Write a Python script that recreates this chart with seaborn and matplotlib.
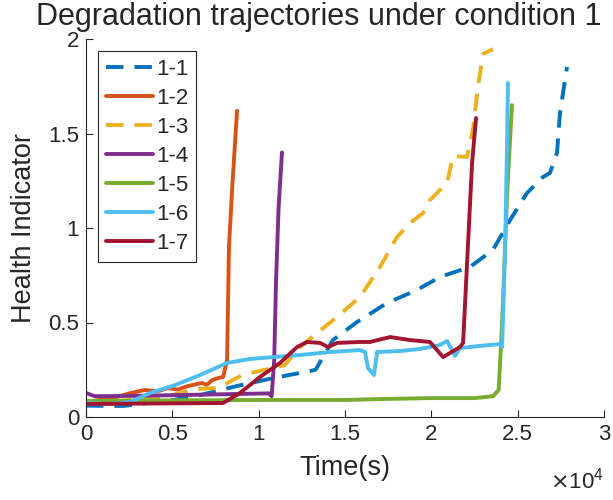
import pandas as pd
import seaborn as sns
import matplotlib.pyplot as plt

# bearing run-to-failure health indicator, condition 1
bearings = ["1-1", "1-2", "1-3", "1-4", "1-5", "1-6", "1-7"]

time_1_1 = [0, 2140, 5040, 6600, 8750, 10830, 12970, 13300, 14300, 15700, 17430,
            19170, 20500, 22240, 23570, 24560, 25540, 26470, 26870, 27280, 27450, 27860]
hi_1_1 = [0.06, 0.058, 0.09, 0.116, 0.164, 0.206, 0.243, 0.25, 0.407, 0.503, 0.603,
          0.672, 0.741, 0.794, 0.884, 1.042, 1.185, 1.27, 1.291, 1.397, 1.608, 1.852]

time_1_2 = [0, 1560, 2500, 3420, 4100, 4750, 5300, 5730, 6200, 6720, 7000, 7300,
            7650, 7940, 8170, 8280, 8460, 8630, 8750]
hi_1_2 = [0.08, 0.10, 0.125, 0.143, 0.135, 0.153, 0.145, 0.159, 0.17, 0.18, 0.17,
          0.195, 0.206, 0.212, 0.30, 0.90, 1.20, 1.45, 1.62]

time_1_3 = [0, 4580, 6310, 7650, 9040, 10770, 11530, 12220, 13380, 14540, 15870,
            17030, 18010, 18770, 19520, 19920, 20910, 21260, 22070, 22420, 22700,
            23000, 23570]
hi_1_3 = [0.07, 0.106, 0.148, 0.153, 0.222, 0.259, 0.275, 0.355, 0.444, 0.529, 0.635,
          0.794, 0.952, 1.026, 1.079, 1.148, 1.238, 1.38, 1.376, 1.529, 1.746, 1.921,
          1.947]

time_1_4 = [0, 500, 3000, 6000, 10600, 10750, 10900, 11000, 11150, 11350]
hi_1_4 = [0.127, 0.11, 0.112, 0.117, 0.125, 0.11, 0.30, 0.70, 1.10, 1.40]

time_1_5 = [0, 5000, 10000, 15000, 17000, 20000, 22500, 23570, 23900, 24100, 24400,
            24670]
hi_1_5 = [0.085, 0.088, 0.09, 0.09, 0.095, 0.10, 0.10, 0.11, 0.143, 0.50, 1.20, 1.65]

time_1_6 = [0, 1390, 2550, 3710, 5160, 6600, 8170, 9500, 10830, 12400, 14130, 15870,
            16160, 16330, 16680, 16860, 18190, 19350, 20500, 20910, 21200, 21370,
            21660, 22820, 23980, 24100, 24270, 24380, 24440]
hi_1_6 = [0.074, 0.069, 0.079, 0.127, 0.169, 0.222, 0.286, 0.307, 0.317, 0.328, 0.344,
          0.354, 0.344, 0.259, 0.222, 0.344, 0.349, 0.36, 0.381, 0.402, 0.354, 0.323,
          0.365, 0.376, 0.386, 0.37, 0.884, 1.413, 1.767]

time_1_7 = [0, 7940, 8920, 10080, 11240, 12220, 12800, 13550, 14020, 14540, 15870,
            16450, 17610, 18770, 19920, 20680, 21660, 21840, 22070, 22360, 22590]
hi_1_7 = [0.069, 0.074, 0.127, 0.212, 0.286, 0.37, 0.397, 0.392, 0.37, 0.392, 0.397,
          0.397, 0.423, 0.407, 0.397, 0.317, 0.37, 0.392, 0.815, 1.344, 1.582]

colors = ["#0072BD", "#D95319", "#EDB120", "#7E2F8E", "#77AC30", "#4DBEEE", "#A2142F"]
x_ticks = [0, 5000, 10000, 15000, 20000, 25000, 30000]
x_tick_labels = ["0", "0.5", "1", "1.5", "2", "2.5", "3"]
y_ticks = [0, 0.5, 1, 1.5, 2]
y_tick_labels = ["0", "0.5", "1", "1.5", "2"]

series = [(time_1_1, hi_1_1), (time_1_2, hi_1_2), (time_1_3, hi_1_3), (time_1_4, hi_1_4),
          (time_1_5, hi_1_5), (time_1_6, hi_1_6), (time_1_7, hi_1_7)]
df = pd.concat(
    [pd.DataFrame({"time": t, "hi": h, "bearing": b}) for b, (t, h) in zip(bearings, series)],
    ignore_index=True,
)

sns.set_theme(style="ticks")
plt.rcParams["font.family"] = ["Liberation Sans", "DejaVu Sans"]

fig = plt.figure(figsize=(6.13, 5.0), dpi=100)
ax = fig.add_axes([0.1403, 0.166, 0.845, 0.756])

dash = (4.5, 2.8)
dashes = {"1-1": dash, "1-2": "", "1-3": dash, "1-4": "", "1-5": "", "1-6": "", "1-7": ""}
sns.lineplot(data=df, x="time", y="hi", hue="bearing", style="bearing",
             hue_order=bearings, style_order=bearings,
             palette=dict(zip(bearings, colors)), dashes=dashes,
             sort=False, estimator=None, linewidth=2.8, legend=False, ax=ax)

ax.set_xlim(0, 30000)
ax.set_ylim(0, 2)
ax.set_xticks(x_ticks, x_tick_labels)
ax.set_yticks(y_ticks, y_tick_labels)
ax.tick_params(direction="in", length=5, width=0.8, colors="#262626", labelsize=16,
               labelcolor="#262626", pad=5)
sns.despine(ax=ax)
for side in ["left", "bottom"]:
    ax.spines[side].set_color("#262626")
    ax.spines[side].set_linewidth(0.8)

ax.set_xlabel("Time(s)", fontsize=19.5, color="#262626", labelpad=7)
ax.set_ylabel("Health Indicator", fontsize=19.5, color="#262626", labelpad=8)
ax.set_title("Degradation trajectories under condition 1", fontsize=22, x=0.45, pad=10)
ax.text(1.0, -0.168, r"$\times\mathdefault{10^{4}}$", transform=ax.transAxes,
        ha="right", va="center", fontsize=16, color="#262626")

ax.legend(ax.get_lines()[:len(bearings)], bearings, loc="upper left", fontsize=16,
          frameon=True, fancybox=False, framealpha=1, edgecolor="#262626",
          handlelength=2.1, handletextpad=0.15, labelspacing=0.36,
          borderaxespad=0.55, borderpad=0.35)
ax.get_legend().get_frame().set_linewidth(0.8)

fig.savefig("out.png", dpi=100)
plt.close(fig)
